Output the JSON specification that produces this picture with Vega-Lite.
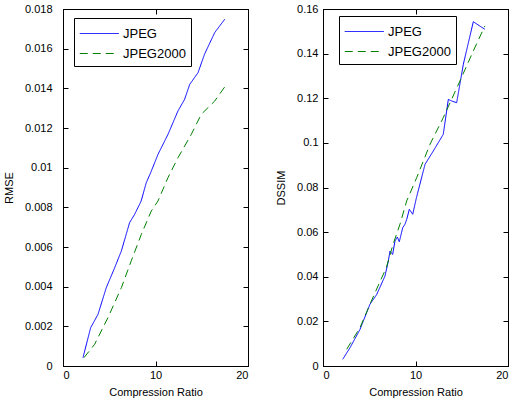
{
  "$schema": "https://vega.github.io/schema/vega-lite/v6.json",
  "padding": {"left": 2, "top": 2, "right": 0, "bottom": 2},
  "background": "white",
  "resolve": {"scale": {"color": "independent", "strokeDash": "independent"}, "legend": {"color": "independent", "strokeDash": "independent"}},
  "config": {
    "font": "Liberation Sans",
    "view": {"stroke": "black", "strokeWidth": 1},
    "axis": {"grid": false, "domainColor": "black", "tickColor": "black", "labelColor": "black", "titleColor": "black", "labelFontSize": 11, "titleFontSize": 11, "titleFontWeight": "normal", "tickSize": -5, "labelPadding": 8, "labelFont": "Liberation Sans", "titleFont": "Liberation Sans"},
    "legend": {"strokeColor": "black", "fillColor": "white", "padding": 5, "labelFontSize": 13, "labelColor": "black", "labelFont": "Liberation Sans", "symbolType": "M-1,0H3", "symbolSize": 380, "symbolStrokeWidth": 1, "rowPadding": 2, "labelOffset": 23, "title": null},
    "concat": {"spacing": 26}
  },
  "datasets": {
    "rmse": [
      {"series": "JPEG", "ratio": 2.16, "value": 0.00042},
      {"series": "JPEG", "ratio": 2.99, "value": 0.00193},
      {"series": "JPEG", "ratio": 3.78, "value": 0.0026},
      {"series": "JPEG", "ratio": 4.68, "value": 0.00395},
      {"series": "JPEG", "ratio": 5.59, "value": 0.00496},
      {"series": "JPEG", "ratio": 6.31, "value": 0.0058},
      {"series": "JPEG", "ratio": 7.2, "value": 0.00723},
      {"series": "JPEG", "ratio": 7.75, "value": 0.00765},
      {"series": "JPEG", "ratio": 8.45, "value": 0.00832},
      {"series": "JPEG", "ratio": 9.0, "value": 0.00924},
      {"series": "JPEG", "ratio": 9.48, "value": 0.00975},
      {"series": "JPEG", "ratio": 9.91, "value": 0.01025},
      {"series": "JPEG", "ratio": 10.27, "value": 0.01067},
      {"series": "JPEG", "ratio": 11.35, "value": 0.01168},
      {"series": "JPEG", "ratio": 12.43, "value": 0.01286},
      {"series": "JPEG", "ratio": 13.15, "value": 0.01345},
      {"series": "JPEG", "ratio": 13.7, "value": 0.0142},
      {"series": "JPEG", "ratio": 14.6, "value": 0.01479},
      {"series": "JPEG", "ratio": 15.3, "value": 0.01572},
      {"series": "JPEG", "ratio": 16.4, "value": 0.01681},
      {"series": "JPEG", "ratio": 17.48, "value": 0.01748},
      {"series": "JPEG2000", "ratio": 2.27, "value": 0.00042},
      {"series": "JPEG2000", "ratio": 3.43, "value": 0.0011},
      {"series": "JPEG2000", "ratio": 4.86, "value": 0.00244},
      {"series": "JPEG2000", "ratio": 6.31, "value": 0.00395},
      {"series": "JPEG2000", "ratio": 7.38, "value": 0.0053},
      {"series": "JPEG2000", "ratio": 8.47, "value": 0.00664},
      {"series": "JPEG2000", "ratio": 9.55, "value": 0.00782},
      {"series": "JPEG2000", "ratio": 10.27, "value": 0.00832},
      {"series": "JPEG2000", "ratio": 11.35, "value": 0.0095},
      {"series": "JPEG2000", "ratio": 12.43, "value": 0.0105},
      {"series": "JPEG2000", "ratio": 13.87, "value": 0.01168},
      {"series": "JPEG2000", "ratio": 14.95, "value": 0.01269},
      {"series": "JPEG2000", "ratio": 16.4, "value": 0.01336},
      {"series": "JPEG2000", "ratio": 17.48, "value": 0.01407}
    ],
    "dssim": [
      {"series": "JPEG", "ratio": 2.13, "value": 0.003},
      {"series": "JPEG", "ratio": 2.92, "value": 0.0082},
      {"series": "JPEG", "ratio": 4.0, "value": 0.0164},
      {"series": "JPEG", "ratio": 5.08, "value": 0.0277},
      {"series": "JPEG", "ratio": 5.8, "value": 0.032},
      {"series": "JPEG", "ratio": 6.7, "value": 0.0403},
      {"series": "JPEG", "ratio": 7.06, "value": 0.047},
      {"series": "JPEG", "ratio": 7.24, "value": 0.0515},
      {"series": "JPEG", "ratio": 7.53, "value": 0.05},
      {"series": "JPEG", "ratio": 7.78, "value": 0.056},
      {"series": "JPEG", "ratio": 8.03, "value": 0.0578},
      {"series": "JPEG", "ratio": 8.25, "value": 0.0557},
      {"series": "JPEG", "ratio": 8.62, "value": 0.062},
      {"series": "JPEG", "ratio": 8.86, "value": 0.0635},
      {"series": "JPEG", "ratio": 9.05, "value": 0.0657},
      {"series": "JPEG", "ratio": 9.33, "value": 0.0702},
      {"series": "JPEG", "ratio": 9.7, "value": 0.068},
      {"series": "JPEG", "ratio": 10.1, "value": 0.0754},
      {"series": "JPEG", "ratio": 11.03, "value": 0.0904},
      {"series": "JPEG", "ratio": 11.93, "value": 0.0964},
      {"series": "JPEG", "ratio": 13.0, "value": 0.1038},
      {"series": "JPEG", "ratio": 13.55, "value": 0.1195},
      {"series": "JPEG", "ratio": 13.9, "value": 0.1188},
      {"series": "JPEG", "ratio": 14.45, "value": 0.118},
      {"series": "JPEG", "ratio": 15.17, "value": 0.1352},
      {"series": "JPEG", "ratio": 16.25, "value": 0.1543},
      {"series": "JPEG", "ratio": 17.5, "value": 0.1509},
      {"series": "JPEG2000", "ratio": 2.56, "value": 0.0075},
      {"series": "JPEG2000", "ratio": 4.0, "value": 0.0172},
      {"series": "JPEG2000", "ratio": 5.08, "value": 0.0277},
      {"series": "JPEG2000", "ratio": 5.95, "value": 0.0359},
      {"series": "JPEG2000", "ratio": 6.85, "value": 0.0441},
      {"series": "JPEG2000", "ratio": 7.57, "value": 0.0545},
      {"series": "JPEG2000", "ratio": 8.32, "value": 0.0635},
      {"series": "JPEG2000", "ratio": 9.05, "value": 0.074},
      {"series": "JPEG2000", "ratio": 10.13, "value": 0.0844},
      {"series": "JPEG2000", "ratio": 11.57, "value": 0.0994},
      {"series": "JPEG2000", "ratio": 13.0, "value": 0.1113},
      {"series": "JPEG2000", "ratio": 14.8, "value": 0.1277},
      {"series": "JPEG2000", "ratio": 16.25, "value": 0.1412},
      {"series": "JPEG2000", "ratio": 17.5, "value": 0.1524}
    ]
  },
  "hconcat": [
    {
      "width": 185,
      "height": 357,
      "data": {"name": "rmse"},
      "resolve": {"axis": {"x": "independent", "y": "independent"}},
      "layer": [
        {
          "mark": {"type": "line", "strokeWidth": 1},
          "encoding": {
            "x": {"field": "ratio", "type": "quantitative", "scale": {"domain": [0, 20], "nice": false}, "axis": {"values": [0, 10, 20], "title": "Compression Ratio", "titlePadding": 6}},
            "y": {"field": "value", "type": "quantitative", "scale": {"domain": [0, 0.018], "nice": false, "zero": false}, "axis": {"values": [0, 0.002, 0.004, 0.006, 0.008, 0.01, 0.012, 0.014, 0.016, 0.018], "format": ".3~f", "title": "RMSE", "titlePadding": 10, "labelPadding": 16}},
            "color": {"field": "series", "type": "nominal", "scale": {"domain": ["JPEG", "JPEG2000"], "range": ["#0000ff", "#008000"]}, "legend": {"orient": "none", "legendX": 11, "legendY": 9}},
            "strokeDash": {"field": "series", "type": "nominal", "scale": {"domain": ["JPEG", "JPEG2000"], "range": [[1, 0], [8, 5]]}, "legend": {"orient": "none", "legendX": 11, "legendY": 9}}
          }
        },
        {
          "mark": {"type": "point", "opacity": 0},
          "encoding": {
            "x": {"field": "ratio", "type": "quantitative", "axis": {"orient": "top", "values": [0, 10, 20], "labels": false, "title": null}},
            "y": {"field": "value", "type": "quantitative", "axis": {"orient": "right", "values": [0, 0.002, 0.004, 0.006, 0.008, 0.01, 0.012, 0.014, 0.016, 0.018], "labels": false, "title": null}}
          }
        }
      ]
    },
    {
      "width": 185,
      "height": 357,
      "data": {"name": "dssim"},
      "resolve": {"axis": {"x": "independent", "y": "independent"}},
      "layer": [
        {
          "mark": {"type": "line", "strokeWidth": 1},
          "encoding": {
            "x": {"field": "ratio", "type": "quantitative", "scale": {"domain": [0, 20], "nice": false}, "axis": {"values": [0, 10, 20], "title": "Compression Ratio", "titlePadding": 6}},
            "y": {"field": "value", "type": "quantitative", "scale": {"domain": [0, 0.16], "nice": false, "zero": false}, "axis": {"values": [0, 0.02, 0.04, 0.06, 0.08, 0.1, 0.12, 0.14, 0.16], "format": ".2~f", "title": "DSSIM", "titlePadding": 10, "labelPadding": 10}},
            "color": {"field": "series", "type": "nominal", "scale": {"domain": ["JPEG", "JPEG2000"], "range": ["#0000ff", "#008000"]}, "legend": {"orient": "none", "legendX": 16, "legendY": 7}},
            "strokeDash": {"field": "series", "type": "nominal", "scale": {"domain": ["JPEG", "JPEG2000"], "range": [[1, 0], [8, 5]]}, "legend": {"orient": "none", "legendX": 16, "legendY": 7}}
          }
        },
        {
          "mark": {"type": "point", "opacity": 0},
          "encoding": {
            "x": {"field": "ratio", "type": "quantitative", "axis": {"orient": "top", "values": [0, 10, 20], "labels": false, "title": null}},
            "y": {"field": "value", "type": "quantitative", "axis": {"orient": "right", "values": [0, 0.02, 0.04, 0.06, 0.08, 0.1, 0.12, 0.14, 0.16], "labels": false, "title": null}}
          }
        }
      ]
    }
  ]
}
